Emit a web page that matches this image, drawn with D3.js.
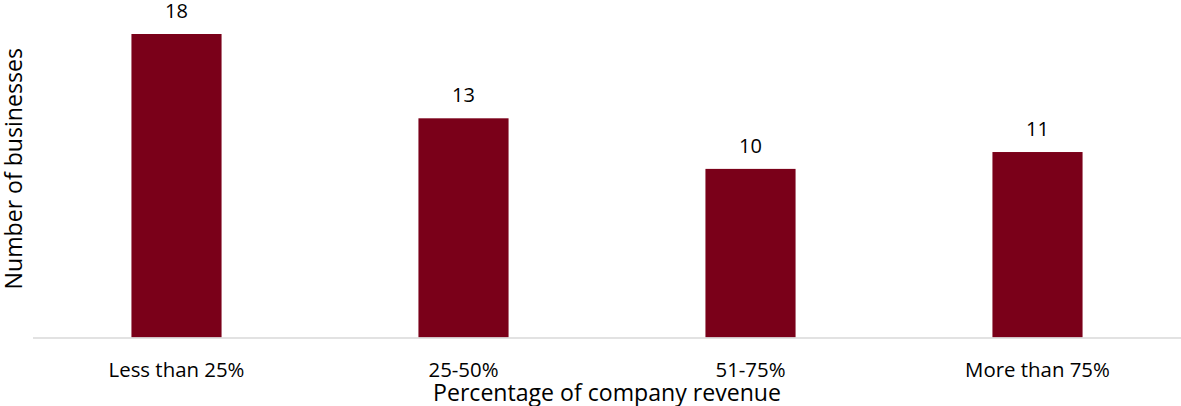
<!DOCTYPE html>
<meta charset="utf-8">
<title>Number of businesses by percentage of company revenue</title>
<style>
body { margin: 0; background: #fff; }
.chart text { font-family: "Open Sans", sans-serif; fill: #000; }
.value { font-size: 20px; }
.cat { font-size: 20.4px; }
.axislabel { font-size: 23.1px; }
</style>
<svg class="chart"></svg>
<script src="https://d3js.org/d3.v7.min.js"></script>
<script>

var categories = ["Less than 25%", "25-50%", "51-75%", "More than 75%"];
var businesses = [18, 13, 10, 11];

var width = 1181, height = 406;
var margin = {top: 34, right: 0, bottom: 68.5, left: 33};

var svg = d3.select(".chart")
    .attr("width", width)
    .attr("height", height);

var x = d3.scaleBand()
    .domain(categories)
    .range([margin.left, width - margin.right])
    .paddingInner(0.686)
    .paddingOuter(0.343);

var y = d3.scaleLinear()
    .domain([0, 18])
    .range([height - margin.bottom, margin.top]);

svg.selectAll(".bar")
    .data(businesses)
    .enter().append("rect")
    .attr("class", "bar")
    .attr("x", function(d, i) { return x(categories[i]); })
    .attr("y", function(d) { return y(d); })
    .attr("width", x.bandwidth())
    .attr("height", function(d) { return y(0) - y(d); })
    .attr("fill", "#7a0019");

svg.selectAll(".value")
    .data(businesses)
    .enter().append("text")
    .attr("class", "value")
    .attr("x", function(d, i) { return x(categories[i]) + x.bandwidth() / 2; })
    .attr("y", function(d) { return y(d) - 16; })
    .attr("text-anchor", "middle")
    .text(function(d) { return d; });

// baseline
svg.append("line")
    .attr("x1", margin.left)
    .attr("x2", width - margin.right)
    .attr("y1", y(0) + 0.5)
    .attr("y2", y(0) + 0.5)
    .attr("stroke", "#d9d9d9")
    .attr("stroke-width", 1.5);

svg.selectAll(".cat")
    .data(categories)
    .enter().append("text")
    .attr("class", "cat")
    .attr("x", function(d) { return x(d) + x.bandwidth() / 2; })
    .attr("y", 377)
    .attr("text-anchor", "middle")
    .text(function(d) { return d; });

svg.append("text")
    .attr("class", "axislabel")
    .attr("x", (margin.left + width) / 2)
    .attr("y", 401)
    .attr("text-anchor", "middle")
    .text("Percentage of company revenue");

svg.append("text")
    .attr("class", "axislabel")
    .attr("transform", "translate(22,168.7) rotate(-90)")
    .attr("text-anchor", "middle")
    .text("Number of businesses");

</script>
